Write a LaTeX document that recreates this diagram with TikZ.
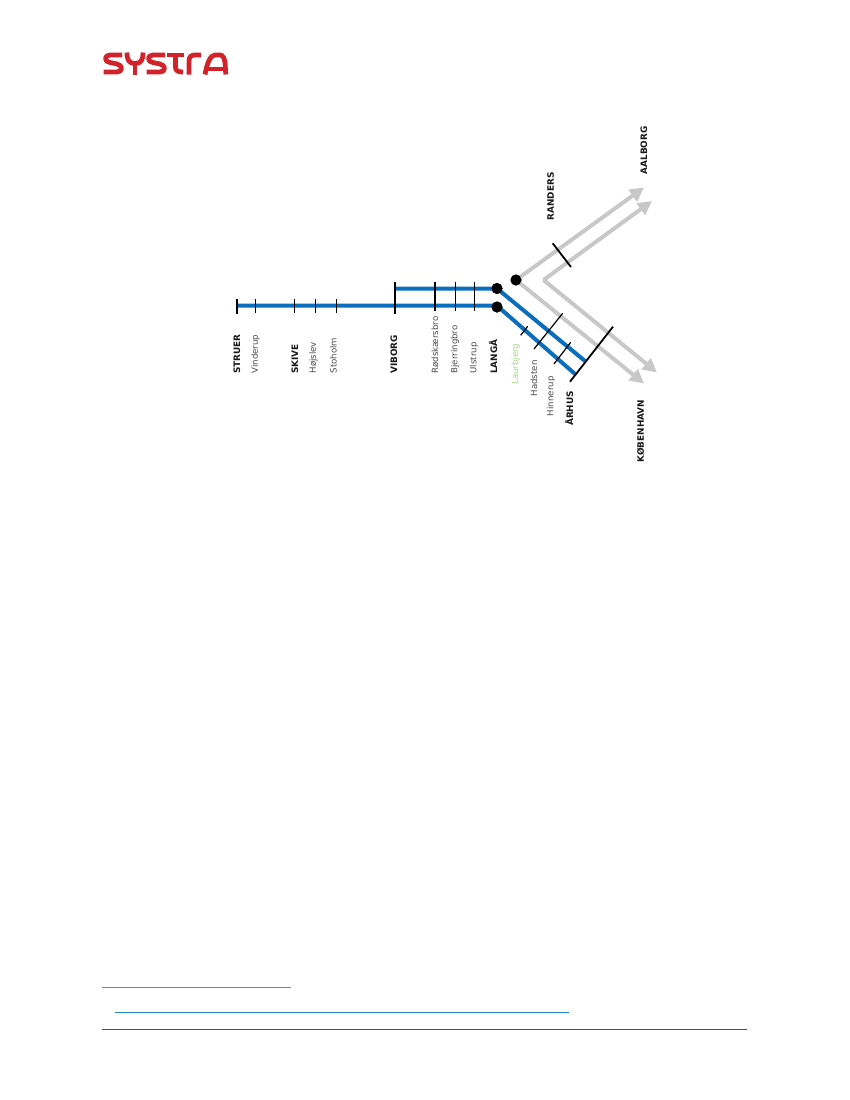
\documentclass[tikz,border=0pt]{standalone}
\usepackage{fontspec}
\setmainfont{DejaVu Sans}
\usetikzlibrary{arrows.meta}
\definecolor{blueline}{HTML}{0A6EBD}
\definecolor{greyline}{HTML}{C8C8C8}
\definecolor{labelgrey}{HTML}{4A4A4A}
\definecolor{labelgreen}{HTML}{A5D67F}
\definecolor{logored}{HTML}{D2232A}
\definecolor{ruleone}{HTML}{808080}
\definecolor{ruletwo}{HTML}{1F8FC4}
\definecolor{rulethree}{HTML}{505050}
\tikzset{
  x=1pt,y=-1pt,
  bluetrack/.style={draw=blueline,line width=4pt},
  greytrack/.style={draw=greyline,line width=4pt,-{Triangle[length=14pt,width=14pt]}},
  tickmark/.style={draw=black,line width=1.2pt},
  bigtick/.style={draw=black,line width=1.8pt},
  junction/.style={circle,fill=black,inner sep=0pt,minimum size=11pt},
  minor/.style={rotate=90,anchor=west,inner sep=0pt,text=labelgrey,font=\fontsize{8.6}{10}\selectfont},
  major/.style={rotate=90,anchor=west,inner sep=0pt,text=black!90,font=\fontsize{8.9}{10}\selectfont\bfseries},
  logostroke/.style={draw=logored,line width=4.8pt,line cap=butt,line join=round},
}
\begin{document}
\begin{tikzpicture}
\useasboundingbox (0,0) rectangle (850,1100);
\node[junction] (jr) at (516,280) {};
\node[junction] (ju) at (497,288.5) {};
\node[junction] (jl) at (497,307) {};
\coordinate (gv) at (543.5,280);
\coordinate (aal1) at (644,187.5);
\coordinate (aal2) at (652,201);
\coordinate (kbh1) at (644,383.5);
\coordinate (kbh2) at (657,372.5);
\coordinate (wl) at (237,305.7);
\coordinate (jlc) at (497,305.7);
\coordinate (wu) at (395.5,288.5);
\coordinate (el) at (575,374);
\coordinate (eu) at (585,361);
\draw[greytrack] (jr.center) -- (aal1);
\draw[greytrack] (jr.center) -- (kbh1);
\draw[greytrack] (gv) -- (aal2);
\draw[greytrack] (gv) -- (kbh2);
\draw[bluetrack] (wl) -- (jlc) -- (el);
\draw[bluetrack] (wu) -- (ju.center) -- (eu);
\node[junction] at (516,280) {};
\node[junction] at (497,288.5) {};
\node[junction] at (497,307) {};
\draw[bigtick] (236.7,299) -- (236.7,314);
\draw[tickmark] (255.7,299) -- (255.7,313);
\draw[tickmark] (294.7,299) -- (294.7,313);
\draw[tickmark] (315.7,299) -- (315.7,313);
\draw[tickmark] (336.7,299) -- (336.7,313);
\draw[bigtick] (395.3,281.7) -- (395.3,314);
\draw[tickmark] (435,281.7) -- (435,311);
\draw[tickmark] (455.7,281.7) -- (455.7,311);
\draw[tickmark] (474.7,281.7) -- (474.7,311);
\draw[tickmark] (520.7,335.3) -- (527.7,326.3);
\draw[tickmark] (534,349) -- (562.7,313.3);
\draw[tickmark] (554,364) -- (570.7,342.3);
\draw[bigtick] (570,381.7) -- (613,326.7);
\draw[bigtick] (552.7,243.3) -- (571,267);
\node[major] (struer) at (237,374) {STRUER};
\node[minor] (vinderup) at (255.5,373.5) {Vinderup};
\node[major] (skive) at (295,374) {SKIVE};
\node[minor] (hojslev) at (313.5,373.5) {Højslev};
\node[minor] (stoholm) at (333.5,373.5) {Stoholm};
\node[major] (viborg) at (394,374) {VIBORG};
\node[minor] (rodskaer) at (435,373.5) {Rødskærsbro};
\node[minor] (bjerring) at (455,373.5) {Bjerringbro};
\node[minor] (ulstrup) at (474,373.5) {Ulstrup};
\node[major] (langa) at (493,374) {LANGÅ};
\node[minor,text=labelgreen] (laurbjerg) at (515.7,384.8) {Laurbjerg};
\node[minor] (hadsten) at (534,396.5) {Hadsten};
\node[minor] (hinnerup) at (551,416.2) {Hinnerup};
\node[major] (arhus) at (569,426) {ÅRHUS};
\node[major] (kobenhavn) at (640.7,462.5) {KØBENHAVN};
\node[major] (randers) at (550.7,220.5) {RANDERS};
\node[major] (aalborg) at (644,174.5) {AALBORG};
\draw[logostroke] (122,55) -- (110,55) .. controls (104,55) and (104,62) .. (110,62.5) -- (117,64) .. controls (123,65) and (123,72) .. (117,72) -- (103.5,72);
\draw[logostroke] (127,52.5) .. controls (127,60) and (129,63.5) .. (135,63.5) .. controls (141,63.5) and (143,60) .. (143,52.5);
\draw[logostroke] (135,63.5) -- (135,74.5);
\draw[logostroke] (165,55) -- (153,55) .. controls (147,55) and (147,62) .. (153,62.5) -- (160,64) .. controls (166,65) and (166,72) .. (160,72) -- (146.5,72);
\draw[logostroke] (167,55) -- (184,55);
\draw[logostroke] (175.5,55) -- (175.5,67) .. controls (175.5,71) and (178,72) .. (183,72);
\draw[logostroke] (189,74.5) -- (189,61) .. controls (189,57) and (191,55) .. (195,55) -- (201,55);
\draw[logostroke] (205,74.5) .. controls (207,64) and (210,55) .. (215,55) -- (220,55) .. controls (223,55) and (224,58) .. (225,62) -- (225.8,74.5);
\draw[logostroke] (208,69) -- (225,69);
\coordinate (f1a) at (102,987.5);\coordinate (f1b) at (290.5,987.5);
\coordinate (f2a) at (115,1012.5);\coordinate (f2b) at (568.5,1012.5);
\coordinate (f3a) at (102,1029);\coordinate (f3b) at (746.5,1029);
\draw[draw=ruleone,line width=.9pt] (f1a) -- (f1b);
\draw[draw=ruletwo,line width=.9pt] (f2a) -- (f2b);
\draw[draw=rulethree,line width=.9pt] (f3a) -- (f3b);
\end{tikzpicture}
\end{document}
